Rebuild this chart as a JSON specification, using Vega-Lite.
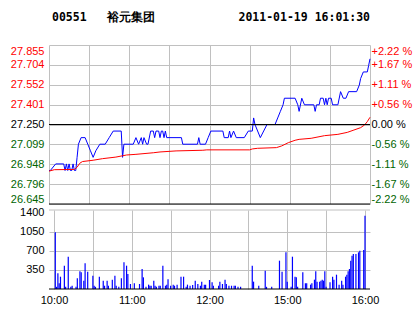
{
  "$schema": "https://vega.github.io/schema/vega-lite/v6.json",
  "background": "white",
  "padding": {"left": 10, "top": 11, "right": 1, "bottom": 5},
  "title": {
    "text": "00551\u00a0\u00a0\u00a0裕元集团\u00a0\u00a0\u00a0\u00a0\u00a0\u00a0\u00a0\u00a0\u00a0\u00a0\u00a0\u00a02011-01-19 16:01:30",
    "anchor": "start",
    "frame": "group",
    "font": "DejaVu Sans Mono",
    "fontSize": 11.5,
    "fontWeight": "bold",
    "color": "#000000",
    "offset": 22,
    "dx": 3
  },
  "config": {
    "view": {"stroke": null},
    "font": "Liberation Sans",
    "axis": {
      "title": null,
      "domain": false,
      "ticks": false,
      "gridColor": "#c0c0c0",
      "gridWidth": 1,
      "labelFont": "Liberation Sans",
      "labelFontSize": 11,
      "labelColor": "#000000",
      "labelOverlap": false,
      "labelBound": false,
      "labelFlush": false
    }
  },
  "datasets": {
    "price": [
      {"t":0,"p":26.90},{"t":1,"p":26.90},{"t":5,"p":26.95},{"t":11,"p":26.95},{"t":12,"p":26.90},{"t":13,"p":26.95},{"t":14,"p":26.90},{"t":15,"p":26.95},{"t":16,"p":26.90},{"t":17,"p":26.90},{"t":18,"p":26.95},{"t":19,"p":26.90},{"t":20,"p":26.90},{"t":21,"p":27.00},{"t":22,"p":27.10},{"t":24,"p":27.15},{"t":27,"p":27.15},{"t":29,"p":27.10},{"t":31,"p":27.05},{"t":33,"p":27.00},{"t":35,"p":27.05},{"t":38,"p":27.10},{"t":42,"p":27.10},{"t":45,"p":27.15},{"t":48,"p":27.20},{"t":54,"p":27.20},{"t":55,"p":27.00},{"t":56,"p":27.10},{"t":63,"p":27.10},{"t":65,"p":27.15},{"t":67,"p":27.10},{"t":69,"p":27.15},{"t":70,"p":27.10},{"t":71,"p":27.15},{"t":73,"p":27.10},{"t":74,"p":27.10},{"t":76,"p":27.20},{"t":78,"p":27.20},{"t":79,"p":27.15},{"t":80,"p":27.20},{"t":82,"p":27.20},{"t":83,"p":27.15},{"t":84,"p":27.20},{"t":85,"p":27.20},{"t":86,"p":27.15},{"t":87,"p":27.20},{"t":88,"p":27.15},{"t":99,"p":27.15},{"t":100,"p":27.10},{"t":111,"p":27.10},{"t":112,"p":27.15},{"t":113,"p":27.10},{"t":117,"p":27.10},{"t":119,"p":27.15},{"t":121,"p":27.20},{"t":130,"p":27.20},{"t":131,"p":27.15},{"t":134,"p":27.15},{"t":135,"p":27.20},{"t":136,"p":27.15},{"t":138,"p":27.20},{"t":140,"p":27.15},{"t":146,"p":27.15},{"t":149,"p":27.20},{"t":152,"p":27.20},{"t":153,"p":27.30},{"t":154,"p":27.25},{"t":158,"p":27.15},{"t":163,"p":27.25},{"t":169,"p":27.25},{"t":171,"p":27.30},{"t":173,"p":27.35},{"t":175,"p":27.40},{"t":176,"p":27.45},{"t":184,"p":27.45},{"t":186,"p":27.40},{"t":187,"p":27.35},{"t":189,"p":27.45},{"t":191,"p":27.40},{"t":198,"p":27.40},{"t":199,"p":27.35},{"t":200,"p":27.40},{"t":202,"p":27.40},{"t":203,"p":27.45},{"t":205,"p":27.45},{"t":206,"p":27.40},{"t":207,"p":27.45},{"t":208,"p":27.40},{"t":209,"p":27.45},{"t":211,"p":27.45},{"t":212,"p":27.40},{"t":216,"p":27.40},{"t":218,"p":27.50},{"t":220,"p":27.45},{"t":222,"p":27.45},{"t":224,"p":27.50},{"t":230,"p":27.50},{"t":232,"p":27.55},{"t":233,"p":27.60},{"t":235,"p":27.65},{"t":238,"p":27.65},{"t":239,"p":27.70},{"t":240,"p":27.75}
    ],
    "avg": [
      {"t":0,"a":26.895},{"t":4,"a":26.906},{"t":19,"a":26.908},{"t":21,"a":26.925},{"t":23,"a":26.955},{"t":25,"a":26.968},{"t":33,"a":26.978},{"t":40,"a":26.99},{"t":50,"a":27.002},{"t":55,"a":27.012},{"t":58,"a":27.018},{"t":65,"a":27.023},{"t":78,"a":27.035},{"t":83,"a":27.041},{"t":95,"a":27.049},{"t":115,"a":27.054},{"t":118,"a":27.057},{"t":150,"a":27.057},{"t":152,"a":27.064},{"t":156,"a":27.069},{"t":170,"a":27.074},{"t":174,"a":27.087},{"t":179,"a":27.112},{"t":184,"a":27.13},{"t":187,"a":27.137},{"t":196,"a":27.145},{"t":206,"a":27.165},{"t":216,"a":27.175},{"t":223,"a":27.19},{"t":228,"a":27.208},{"t":233,"a":27.226},{"t":236,"a":27.247},{"t":238,"a":27.272},{"t":240,"a":27.305}
    ],
    "vol": [
      {"t":1,"v":1040},{"t":2,"v":40},{"t":3,"v":288},{"t":4,"v":104},{"t":5,"v":226},{"t":8,"v":428},{"t":9,"v":40},{"t":11,"v":593},{"t":13,"v":40},{"t":14,"v":60},{"t":17,"v":40},{"t":18,"v":196},{"t":20,"v":324},{"t":21,"v":306},{"t":23,"v":153},{"t":24,"v":471},{"t":26,"v":318},{"t":30,"v":245},{"t":31,"v":60},{"t":32,"v":40},{"t":35,"v":226},{"t":38,"v":153},{"t":39,"v":60},{"t":41,"v":153},{"t":42,"v":60},{"t":45,"v":171},{"t":47,"v":245},{"t":48,"v":60},{"t":50,"v":40},{"t":52,"v":196},{"t":54,"v":490},{"t":56,"v":428},{"t":57,"v":275},{"t":59,"v":92},{"t":62,"v":104},{"t":66,"v":92},{"t":68,"v":367},{"t":69,"v":214},{"t":71,"v":40},{"t":73,"v":80},{"t":74,"v":60},{"t":75,"v":60},{"t":77,"v":153},{"t":78,"v":60},{"t":79,"v":40},{"t":81,"v":60},{"t":82,"v":60},{"t":84,"v":428},{"t":86,"v":60},{"t":87,"v":80},{"t":88,"v":177},{"t":90,"v":60},{"t":92,"v":80},{"t":93,"v":60},{"t":95,"v":80},{"t":98,"v":226},{"t":100,"v":226},{"t":102,"v":40},{"t":103,"v":80},{"t":105,"v":60},{"t":107,"v":73},{"t":109,"v":153},{"t":111,"v":92},{"t":113,"v":60},{"t":114,"v":135},{"t":116,"v":80},{"t":117,"v":80},{"t":120,"v":165},{"t":122,"v":122},{"t":123,"v":60},{"t":127,"v":60},{"t":128,"v":135},{"t":130,"v":92},{"t":132,"v":171},{"t":133,"v":92},{"t":135,"v":60},{"t":137,"v":60},{"t":139,"v":60},{"t":140,"v":60},{"t":142,"v":40},{"t":144,"v":40},{"t":153,"v":428},{"t":154,"v":135},{"t":158,"v":60},{"t":163,"v":336},{"t":164,"v":40},{"t":168,"v":40},{"t":174,"v":520},{"t":176,"v":318},{"t":179,"v":673},{"t":180,"v":135},{"t":183,"v":40},{"t":184,"v":593},{"t":186,"v":226},{"t":187,"v":214},{"t":188,"v":40},{"t":192,"v":306},{"t":194,"v":104},{"t":195,"v":104},{"t":198,"v":80},{"t":199,"v":104},{"t":201,"v":171},{"t":202,"v":324},{"t":203,"v":135},{"t":205,"v":135},{"t":206,"v":153},{"t":207,"v":171},{"t":208,"v":153},{"t":209,"v":324},{"t":210,"v":40},{"t":213,"v":122},{"t":215,"v":226},{"t":216,"v":171},{"t":218,"v":263},{"t":220,"v":80},{"t":222,"v":153},{"t":223,"v":80},{"t":225,"v":226},{"t":226,"v":263},{"t":227,"v":324},{"t":228,"v":367},{"t":229,"v":520},{"t":230,"v":612},{"t":231,"v":642},{"t":233,"v":642},{"t":235,"v":673},{"t":236,"v":704},{"t":239,"v":716},{"t":240,"v":1346}
    ]
  },
  "spacing": 6,
  "bounds": "flush",
  "vconcat": [
    {
      "width": 321,
      "height": 159,
      "layer": [
        {
          "data": {"name": "price"},
          "mark": {"type": "line", "color": "#0000ff", "strokeWidth": 1},
          "encoding": {
            "x": {"field": "t", "type": "quantitative", "scale": {"domain": [0, 240], "nice": false, "zero": false},
                  "axis": {"values": [0,30,60,90,120,150,180,210,240], "labels": false, "grid": true}},
            "y": {"field": "p", "type": "quantitative", "scale": {"domain": [26.645, 27.855], "nice": false, "zero": false},
                  "axis": {"orient": "left", "values": [26.645,26.796,26.948,27.099,27.25,27.401,27.552,27.704,27.855], "format": ".3f", "labelPadding": 5, "grid": true, "labelFlush": true,
                           "labelColor": {"condition": [{"test": "datum.value > 27.26", "value": "#ff0000"}, {"test": "datum.value < 27.24", "value": "#006400"}], "value": "#000000"}}}
          }
        },
        {
          "data": {"name": "avg"},
          "mark": {"type": "line", "color": "#ff0000", "strokeWidth": 1},
          "encoding": {
            "x": {"field": "t", "type": "quantitative"},
            "y": {"field": "a", "type": "quantitative",
                  "axis": {"orient": "right", "values": [26.645,26.796,26.948,27.099,27.25,27.401,27.552,27.704,27.855], "grid": false, "labelPadding": 1, "labelAlign": "left", "labelFlush": true,
                           "labelExpr": "datum.value > 27.8 ? '+2.22 %' : datum.value > 27.65 ? '+1.67 %' : datum.value > 27.5 ? '+1.11 %' : datum.value > 27.3 ? '+0.56 %' : datum.value > 27.2 ? '\u00a0\u00a00.00 %' : datum.value > 27.05 ? '-0.56 %' : datum.value > 26.9 ? '-1.11 %' : datum.value > 26.7 ? '-1.67 %' : '-2.22 %'",
                           "labelColor": {"condition": [{"test": "datum.value > 27.26", "value": "#ff0000"}, {"test": "datum.value < 27.24", "value": "#006400"}], "value": "#000000"}}}
          }
        },
        {
          "data": {"values": [{"ref": 27.25}, {"ref": 26.645}]},
          "mark": {"type": "rule", "color": "#000000", "strokeWidth": 1},
          "encoding": {
            "y": {"field": "ref", "type": "quantitative", "axis": null}
          }
        }
      ],
      "resolve": {"axis": {"y": "independent"}}
    },
    {
      "width": 321,
      "height": 79,
      "layer": [
        {
          "data": {"values": [{"ref": 1450}]},
          "mark": {"type": "rule", "color": "#c0c0c0", "strokeWidth": 1},
          "encoding": {
            "y": {"field": "ref", "type": "quantitative", "axis": null}
          }
        },
        {
          "data": {"name": "vol"},
          "mark": {"type": "bar", "color": "#0000ff", "size": 1.2},
          "encoding": {
            "x": {"field": "t", "type": "quantitative", "scale": {"domain": [0, 240], "nice": false, "zero": false},
                  "axis": {"values": [0,30,60,90,120,150,180,210,240], "grid": true, "labelPadding": 5,
                           "labelExpr": "datum.value == 0 ? '10:00' : datum.value == 60 ? '11:00' : datum.value == 120 ? '12:00' : datum.value == 180 ? '15:00' : datum.value == 240 ? '16:00' : ''"}},
            "y": {"field": "v", "type": "quantitative", "scale": {"domain": [0, 1450], "nice": false},
                  "axis": {"orient": "left", "values": [350, 700, 1050, 1400], "format": "d", "labelPadding": 5, "grid": true,
                           "gridColor": {"condition": {"test": "datum.value > 1300", "value": "transparent"}, "value": "#c0c0c0"}}}
          }
        },
        {
          "data": {"values": [{"ref": 0}]},
          "mark": {"type": "rule", "color": "#000000", "strokeWidth": 1},
          "encoding": {
            "y": {"field": "ref", "type": "quantitative", "axis": null}
          }
        }
      ],
      "resolve": {"axis": {"y": "independent"}}
    }
  ]
}
